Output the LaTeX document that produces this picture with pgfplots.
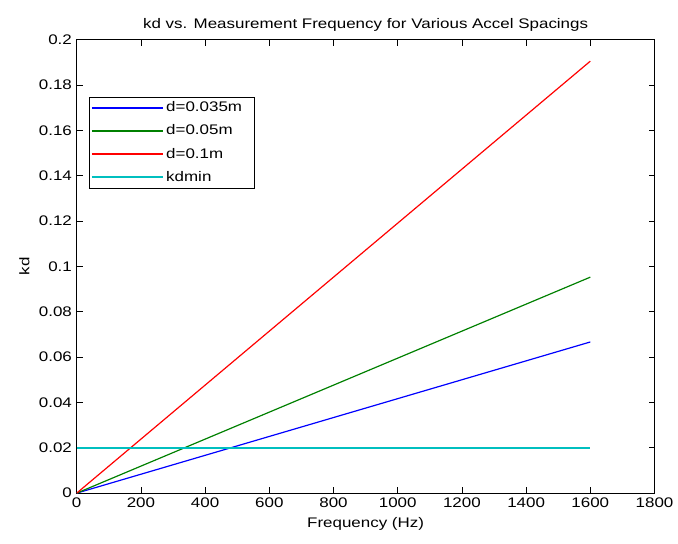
\documentclass[border=0pt]{standalone}
\usepackage{fontspec}
\setmainfont{Liberation Sans}[FakeStretch=1.22]
\usepackage{pgfplots}
\pgfplotsset{compat=1.18}
\definecolor{matlabblue}{RGB}{0,0,255}
\definecolor{matlabgreen}{RGB}{0,128,0}
\definecolor{matlabred}{RGB}{255,0,0}
\definecolor{matlabcyan}{RGB}{0,191,191}
\begin{document}
\fontsize{14}{16}\selectfont
\begin{tikzpicture}
\begin{axis}[
  scale only axis,
  width=580bp, height=455bp,
  xmin=0, xmax=1800, ymin=0, ymax=0.2,
  xtick={0,200,...,1800},
  ytick={0,0.02,...,0.2},
  tick align=inside,
  tick pos=both,
  major tick length=6bp,
  axis line style={line width=0.7pt},
  tick style={line width=0.7pt,black},
  /pgf/number format/assume math mode=true,
  /pgf/number format/1000 sep={},
  yticklabel style={/pgf/number format/fixed,/pgf/number format/precision=2},
  scaled y ticks=false,
  ticklabel style={font=\fontsize{14}{16}\selectfont},
  title={kd vs. Measurement Frequency for Various Accel Spacings},
  title style={font=\fontsize{14}{16}\selectfont, yshift=-2bp},
  xlabel={Frequency (Hz)},
  ylabel={kd},
  label style={font=\fontsize{14}{16}\selectfont},
  legend style={at={(rel axis cs:0.0207,0.875)}, anchor=north west, font=\fontsize{14}{16}\selectfont, draw=black, line width=0.7pt, inner xsep=2bp, inner ysep=3bp, row sep=7bp},
  legend cell align=left,
  legend image code/.code={\path (0bp,0bp) -- (72bp,0bp); \draw[#1] (11bp,0bp) -- (68bp,0bp);},
]
\addplot[color=matlabblue, line width=1.2bp] coordinates {(0,0) (1600,0.0667)};
\addlegendentry{d=0.035m\hspace*{8bp}}
\addplot[color=matlabgreen, line width=1.2bp] coordinates {(0,0) (1600,0.0953)};
\addlegendentry{d=0.05m}
\addplot[color=matlabred, line width=1.2bp] coordinates {(0,0) (1600,0.1906)};
\addlegendentry{d=0.1m}
\addplot[color=matlabcyan, line width=1.5bp] coordinates {(0,0.02) (1600,0.02)};
\addlegendentry{kdmin}
\end{axis}
\path (current axis.south west) ++(-77bp,-51bp) rectangle ++(678bp,546bp);
\end{tikzpicture}
\end{document}
